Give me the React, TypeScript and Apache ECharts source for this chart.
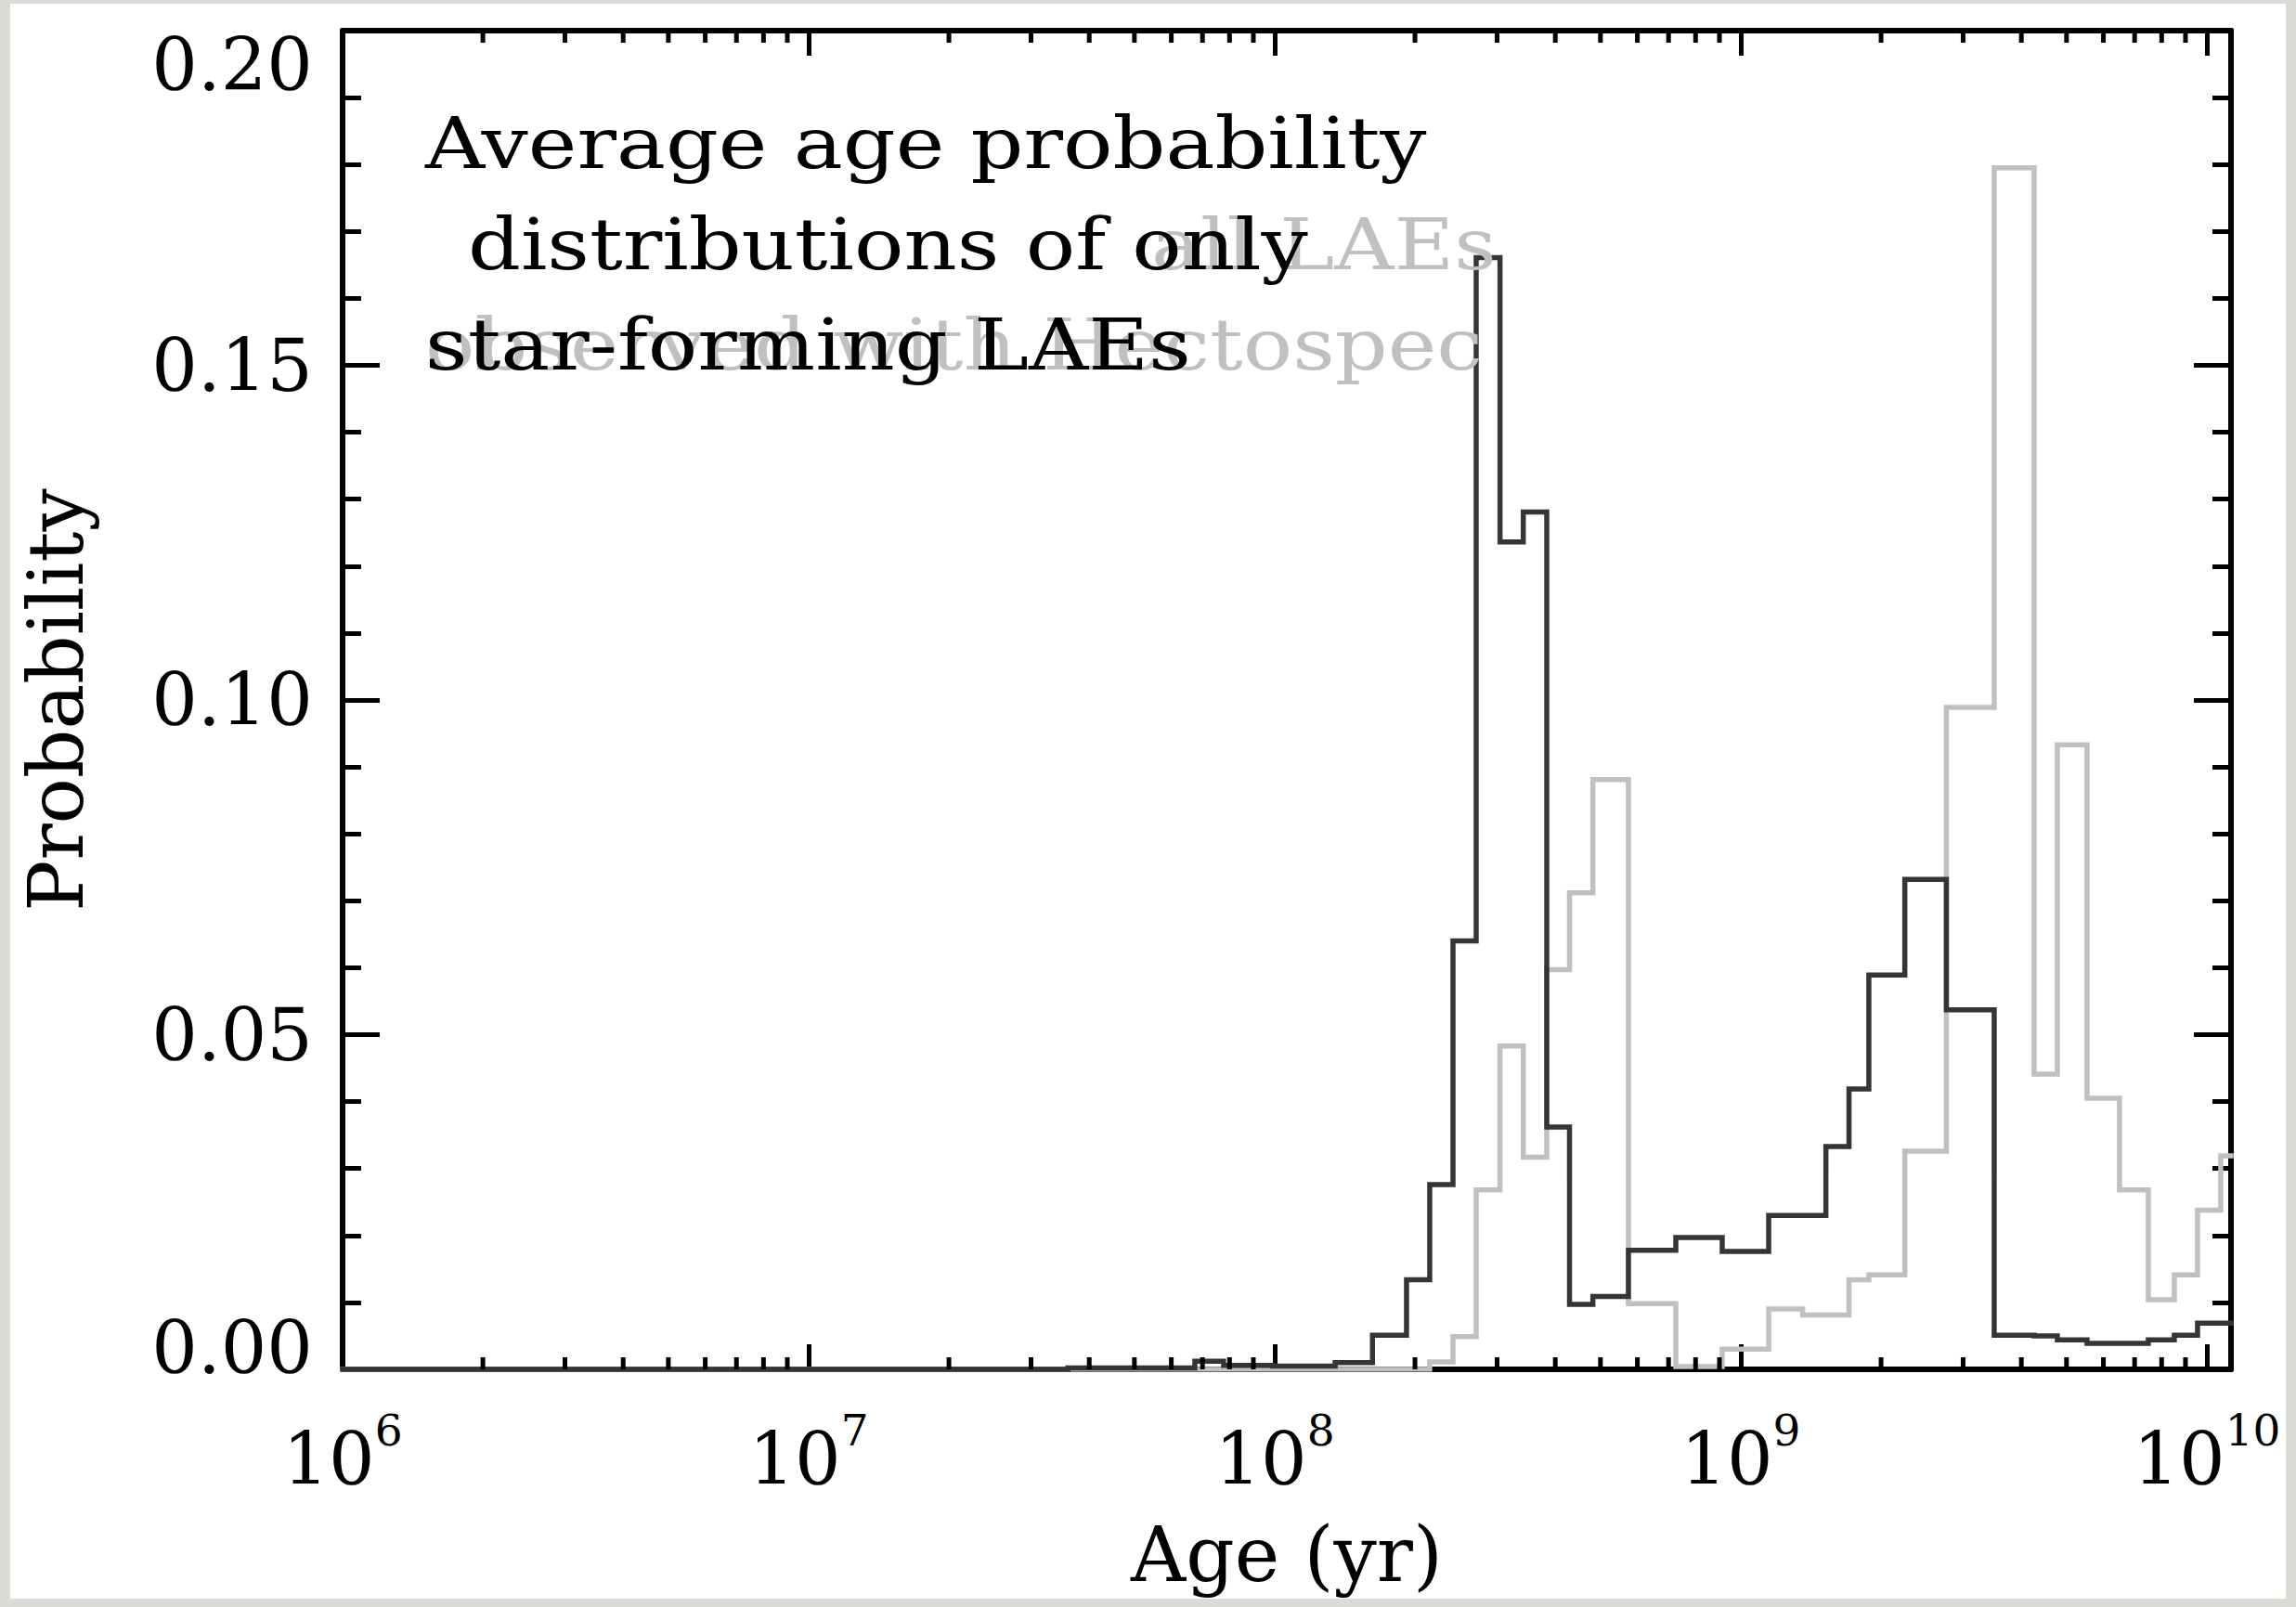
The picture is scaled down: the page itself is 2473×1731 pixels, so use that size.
import React, { useEffect, useRef } from "react";
import * as echarts from "echarts";

// Bin edges of the age histogram (yr)
const binEdges = [
  1e6, 3.6e7, 6.74e7, 7.77e7, 9.91e7, 1.348e8, 1.621e8, 1.918e8, 2.151e8,
  2.413e8, 2.706e8, 3.044e8, 3.415e8, 3.835e8, 4.291e8, 4.816e8, 5.741e8,
  7.256e8, 9.125e8, 1.148e9, 1.358e9, 1.523e9, 1.707e9, 1.883e9, 2.249e9,
  2.762e9, 3.498e9, 4.261e9, 4.779e9, 5.534e9, 6.496e9, 7.49e9, 8.517e9,
  9.553e9, 1.0713e10, 1.127e10,
];

// Average age probability of star-forming LAEs (dark line)
const starFormingLAEs = [
  0, 0.0002, 0.0012, 0.0006, 0.0005, 0.001, 0.0051, 0.0134, 0.0276, 0.064,
  0.1661, 0.1236, 0.1281, 0.0362, 0.0097, 0.0109, 0.0178, 0.0197, 0.0176,
  0.023, 0.023, 0.0333, 0.0419, 0.0589, 0.0732, 0.0537, 0.0051, 0.005,
  0.0044, 0.0039, 0.0039, 0.0044, 0.0051, 0.0069, 0.0069,
];

// Average age probability of all LAEs observed with Hectospec (light line)
const allLAEs = [
  0, 0, 0, 0, 0, 0, 0, 0, 0.0011, 0.0049, 0.0268, 0.0483, 0.0317, 0.0597,
  0.0712, 0.0881, 0.0098, 0.0004, 0.003, 0.009, 0.0081, 0.0081, 0.0134,
  0.0141, 0.0326, 0.0989, 0.1795, 0.0441, 0.0933, 0.0405, 0.0268, 0.0104,
  0.0141, 0.0238, 0.0319,
];

const xMin = 1e6;
const xMax = 1.127e10;
const yMin = 0;
const yMax = 0.2;
const yInterval = 0.05;
const minorDecades = [1e6, 1e7, 1e8, 1e9];
const minorMultipliers = [2, 3, 4, 5, 6, 7, 8, 9];

const FONT = "DejaVu Serif";
const DARK = "#353535";
const LIGHT = "#c0c0c0";

function stepPoints(edges: number[], vals: number[]) {
  const pts: number[][] = [];
  vals.forEach((v, i) => {
    pts.push([edges[i], v]);
    pts.push([edges[i + 1], v]);
  });
  return pts;
}

export default function App() {
  const ref = useRef<HTMLDivElement>(null);

  useEffect(() => {
    if (!ref.current) return;
    const chart = echarts.init(ref.current, undefined, { renderer: "svg" });

    const minorTicks: number[][] = [];
    minorDecades.forEach((d) =>
      minorMultipliers.forEach((m) => minorTicks.push([d * m, 0]))
    );

    const yLabelFormatter = (v: number) => {
      const s = v.toFixed(2);
      if (Math.abs(v - yMin) < 1e-9) return `{lo|${s}}`;
      if (Math.abs(v - yMax) < 1e-9) return `{hi|${s}}`;
      return `{n|${s}}`;
    };

    const xLabelFormatter = (v: number) => {
      const e = Math.log10(v);
      if (Math.abs(e - Math.round(e)) > 1e-6) return "";
      return `{b|10}{s|${Math.round(e)}}`;
    };

    const tickStyle = { color: "#000", width: 5 };
    const frameStyle = { color: "#000", width: 6 };

    const textEl = (text: string, x: number, y: number, fill: string, z: number) => ({
      type: "text",
      z,
      x,
      y,
      scaleX: 1.17,
      scaleY: 1,
      silent: true,
      style: {
        text,
        fontFamily: FONT,
        fontSize: 76,
        fill,
        align: "left",
        verticalAlign: "middle",
      },
    });

    const option: any = {
      animation: false,
      backgroundColor: "transparent",
      textStyle: { fontFamily: FONT, color: "#000" },
      grid: {
        left: 369,
        top: 33,
        right: 2473 - 2403,
        bottom: 1731 - 1475,
        containLabel: false,
        outerBoundsMode: "none",
      },
      xAxis: [
        {
          type: "log",
          logBase: 10,
          min: xMin,
          max: xMax,
          position: "bottom",
          axisLine: { show: true, onZero: false, lineStyle: frameStyle },
          axisTick: { show: true, inside: true, length: 27, lineStyle: tickStyle },
          splitLine: { show: false },
          axisLabel: {
            show: true,
            margin: 42,
            showMinLabel: true,
            showMaxLabel: true,
            formatter: xLabelFormatter,
            rich: {
              b: { fontFamily: FONT, fontSize: 78, color: "#000" },
              s: { fontFamily: FONT, fontSize: 47, color: "#000", padding: [0, 0, 62, 0] },
            },
          },
          name: "Age (yr)",
          nameLocation: "middle",
          nameGap: 158,
          nameTextStyle: { fontFamily: FONT, fontSize: 82, color: "#000" },
        },
        {
          type: "log",
          logBase: 10,
          min: xMin,
          max: xMax,
          position: "top",
          axisLine: { show: true, onZero: false, lineStyle: frameStyle },
          axisTick: { show: true, inside: true, length: 27, lineStyle: tickStyle },
          splitLine: { show: false },
          axisLabel: { show: false },
        },
      ],
      yAxis: [
        {
          type: "value",
          min: yMin,
          max: yMax,
          interval: yInterval,
          position: "left",
          axisLine: { show: true, onZero: false, lineStyle: frameStyle },
          axisTick: { show: true, inside: true, length: 40, lineStyle: tickStyle },
          minorTick: { show: true, splitNumber: 5, length: 20, lineStyle: tickStyle },
          splitLine: { show: false },
          minorSplitLine: { show: false },
          axisLabel: {
            show: true,
            margin: 32,
            formatter: yLabelFormatter,
            rich: {
              n: { fontFamily: FONT, fontSize: 78, color: "#000" },
              hi: { fontFamily: FONT, fontSize: 78, color: "#000", padding: [74, 0, 0, 0] },
              lo: { fontFamily: FONT, fontSize: 78, color: "#000", padding: [0, 0, 46, 0] },
            },
          },
          name: "Probability",
          nameLocation: "middle",
          nameRotate: 90,
          nameGap: 268,
          nameTextStyle: { fontFamily: FONT, fontSize: 82, color: "#000" },
        },
        {
          type: "value",
          min: yMin,
          max: yMax,
          interval: yInterval,
          position: "right",
          axisLine: { show: true, onZero: false, lineStyle: frameStyle },
          axisTick: { show: true, inside: true, length: 40, lineStyle: tickStyle },
          minorTick: { show: true, splitNumber: 5, length: 20, lineStyle: tickStyle },
          splitLine: { show: false },
          minorSplitLine: { show: false },
          axisLabel: { show: false },
        },
      ],
      series: [
        {
          type: "line",
          name: "all LAEs observed with Hectospec",
          xAxisIndex: 0,
          yAxisIndex: 0,
          data: stepPoints(binEdges, allLAEs),
          showSymbol: false,
          symbol: "none",
          lineStyle: { color: LIGHT, width: 5.5, join: "miter", cap: "square" },
          z: 3,
        },
        {
          type: "line",
          name: "star-forming LAEs",
          xAxisIndex: 0,
          yAxisIndex: 0,
          data: stepPoints(binEdges, starFormingLAEs),
          showSymbol: false,
          symbol: "none",
          lineStyle: { color: DARK, width: 5.5, join: "miter", cap: "square" },
          z: 4,
        },
        {
          type: "custom",
          name: "minor ticks",
          xAxisIndex: 0,
          yAxisIndex: 0,
          silent: true,
          clip: false,
          z: 5,
          data: minorTicks,
          renderItem: (_p: any, api: any) => {
            const x = api.value(0);
            const b = api.coord([x, yMin]);
            const t = api.coord([x, yMax]);
            return {
              type: "group",
              children: [
                {
                  type: "line",
                  shape: { x1: b[0], y1: b[1], x2: b[0], y2: b[1] - 13 },
                  style: { stroke: "#000", lineWidth: 5 },
                },
                {
                  type: "line",
                  shape: { x1: t[0], y1: t[1], x2: t[0], y2: t[1] + 13 },
                  style: { stroke: "#000", lineWidth: 5 },
                },
              ],
            };
          },
        },
      ],
      graphic: [
        {
          type: "rect",
          z: -10,
          silent: true,
          shape: { x: 11, y: 4, width: 2451, height: 1718 },
          style: { fill: "#ffffff" },
        },
        textEl("observed with Hectospec", 458, 372, LIGHT, 10),
        textEl("all LAEs", 1240, 264, LIGHT, 10),
        textEl("Average age probability", 458, 155, "#000", 11),
        textEl("distributions of only", 504, 264, "#000", 11),
        textEl("star-forming LAEs", 458, 372, "#000", 11),
      ],
    };

    chart.setOption(option);
    return () => chart.dispose();
  }, []);

  return (
    <div
      style={{
        position: "fixed",
        left: 0,
        top: 0,
        width: 2473,
        height: 1731,
        background: "#dcdcd6",
      }}
    >
      <div ref={ref} style={{ width: 2473, height: 1731 }} />
    </div>
  );
}
